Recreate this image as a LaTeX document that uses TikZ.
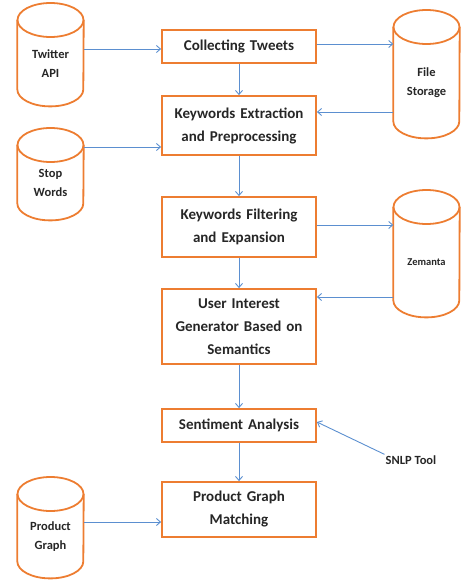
\documentclass[tikz,border=0pt]{standalone}
\usepackage{fontspec}
\setmainfont{Carlito}
\usetikzlibrary{arrows.meta}
\definecolor{orng}{RGB}{237,125,49}
\definecolor{arrb}{RGB}{91,143,208}
\definecolor{txt}{RGB}{38,38,38}
\newcommand\drawcyl[1]{%
  \draw[cylline] (#1.north) ellipse[x radius=33pt, y radius=17pt];
  \draw[cylline] (#1.north west) -- ([yshift=17pt]#1.south west)
    arc[start angle=180, end angle=360, x radius=33pt, y radius=17pt] -- (#1.north east);}
\begin{document}
\begin{tikzpicture}[x=1pt,y=-1pt,
  box/.style={draw=orng, line width=1.8pt, minimum width=154pt, text width=150pt,
    align=center, font=\fontsize{15}{23}\selectfont\bfseries, text=txt, inner sep=0pt},
  cylnode/.style={minimum width=66pt, inner sep=0pt, align=center,
    font=\fontsize{12.5}{19}\selectfont\bfseries, text=txt, anchor=north},
  arr/.style={draw=arrb, line width=0.9pt, -{Straight Barb[length=4pt,width=7pt]}},
  cylline/.style={draw=orng, line width=1.8pt}]
\useasboundingbox (0,0) rectangle (460,580);
% process boxes
\node[box, minimum height=33pt] (col) at (239,46.5) {Collecting Tweets};
\node[box, minimum height=59pt] (ke) at (239,125.5) {Keywords Extraction\\and Preprocessing};
\node[box, minimum height=60pt] (kf) at (239,227) {Keywords Filtering\\and Expansion};
\node[box, minimum height=75pt] (ui) at (239,326.5) {User Interest\\Generator Based on\\Semantics};
\node[box, minimum height=33pt] (sa) at (239,425.5) {Sentiment Analysis};
\node[box, minimum height=55pt] (pgm) at (239,509.5) {Product Graph\\Matching};
% data stores
\node[cylnode, minimum height=86pt] (tw) at (50.5,20) {Twitter\\API};
\node[cylnode, minimum height=75pt] (sw) at (50.5,145) {Stop\\Words};
\node[cylnode, minimum height=84pt] (pg) at (50.5,494) {Product\\Graph};
\node[cylnode, minimum height=111pt] (fs) at (426.5,27) {File\\Storage};
\node[cylnode, minimum height=110pt, font=\fontsize{10.5}{16}\selectfont\bfseries] (zem) at (426.5,207) {Zemanta};
\drawcyl{tw}
\drawcyl{sw}
\drawcyl{pg}
\drawcyl{fs}
\drawcyl{zem}
\node[font=\fontsize{12.5}{15}\selectfont\bfseries, text=txt, inner sep=1pt] (snlp) at (411,460) {SNLP Tool};
% connectors
\draw[arr] ([yshift=-2.5pt]col.west -| tw.east) -- ([yshift=-2.5pt]col.west);
\draw[arr] ([yshift=2.5pt]col.east) -- ([yshift=2.5pt]col.east -| fs.west);
\draw[arr] ([yshift=13.5pt]ke.east -| fs.west) -- ([yshift=13.5pt]ke.east);
\draw[arr] ([yshift=-21.5pt]ke.west -| sw.east) -- ([yshift=-21.5pt]ke.west);
\draw[arr] ([yshift=2pt]kf.east) -- ([yshift=2pt]kf.east -| zem.west);
\draw[arr] ([yshift=29.5pt]ui.east -| zem.west) -- ([yshift=29.5pt]ui.east);
\draw[arr] ([yshift=-12.5pt]pgm.west -| pg.east) -- ([yshift=-12.5pt]pgm.west);
\draw[arr] (snlp.north west) -- ([yshift=3.5pt]sa.east);
\draw[arr] (col.south) -- (ke.north);
\draw[arr] (ke.south) -- (kf.north);
\draw[arr] (kf.south) -- (ui.north);
\draw[arr] (ui.south) -- (sa.north);
\draw[arr] (sa.south) -- (pgm.north);
\end{tikzpicture}
\end{document}
